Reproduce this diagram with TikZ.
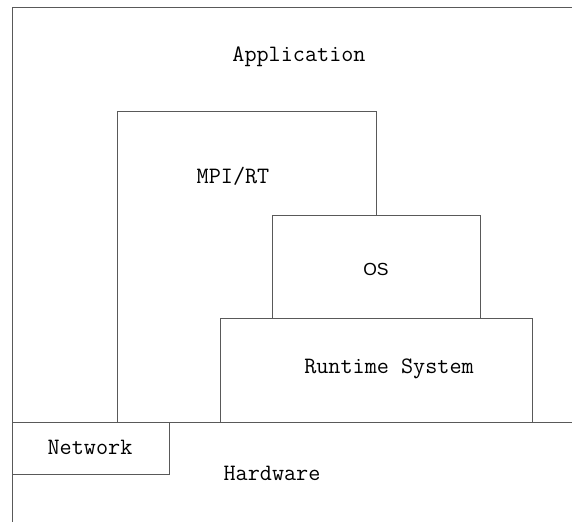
\documentclass[tikz,border=0pt]{standalone}
\usepackage{fontspec}
\newfontfamily\osfont{Liberation Sans}
\usetikzlibrary{positioning}

\begin{document}
\begin{tikzpicture}[x=1pt, y=-1pt,
		layer/.style={draw=black!65, line width=1pt},
		lbl/.style={font=\ttfamily\fontsize{23.5}{25}\selectfont, inner sep=0pt}]
		\useasboundingbox (0,0) rectangle (572,522);
		
		% frame and hardware line
		\draw[layer] (572,7) -- (12,7) -- (12,522);
		\draw[layer] (12,422) -- (572,422);
		
		% layers
		\draw[layer] (117,422) -- (117,111) -- (376,111) -- (376,215);
		\draw[layer] (272,215) rectangle (480,318);
		\draw[layer] (220,422) -- (220,318) -- (532,318) -- (532,422);
		\draw[layer] (12,422) rectangle (169,474);
		
		\draw (299,57) node[lbl] (app) {Application}
		(233,176) node[lbl] (mpi) {MPI/RT}
		(376,269) node[lbl, font=\osfont\fontsize{17.5}{19}\selectfont] (os) {OS}
		(389,369) node[lbl] (rts) {Runtime System}
		(90,447) node[lbl] (net) {Network}
		(272,473) node[lbl] (hw) {Hardware};
	\end{tikzpicture}
\end{document}
